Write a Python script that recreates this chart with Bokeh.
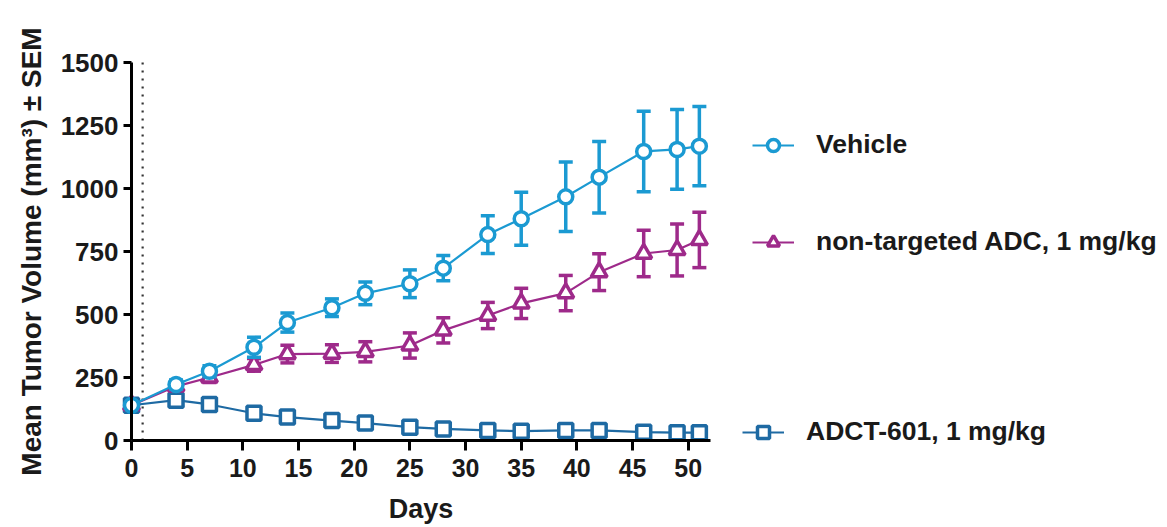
from bokeh.plotting import figure
from bokeh.models import (ColumnDataSource, FixedTicker, Legend, LegendItem, Range1d)
from bokeh.embed import file_html
from bokeh.resources import INLINE

# ---- data ----
days = [0, 4, 7, 11, 14, 18, 21, 25, 28, 32, 35, 39, 42, 46, 49, 51]
vehicle_mean = [140, 222, 275, 370, 468, 527, 584, 622, 684, 817, 880, 967, 1045, 1147, 1155, 1168]
vehicle_sem = [12, 18, 22, 40, 38, 35, 45, 55, 50, 75, 105, 138, 142, 160, 158, 157]
adc_mean = [140, 215, 250, 300, 343, 345, 352, 377, 437, 496, 544, 585, 668, 742, 756, 796]
adc_sem = [12, 15, 20, 25, 35, 35, 40, 50, 50, 52, 60, 70, 73, 92, 103, 110]
adct_mean = [140, 160, 143, 108, 93, 79, 69, 53, 46, 40, 37, 40, 40, 33, 31, 31]
adct_sem = [10, 12, 10, 8, 7, 6, 5, 5, 4, 4, 4, 4, 4, 3, 3, 3]
series_names = ["Vehicle", "non-targeted ADC, 1 mg/kg", "ADCT-601, 1 mg/kg"]
x_ticks = [0, 5, 10, 15, 20, 25, 30, 35, 40, 45, 50]
y_ticks = [0, 250, 500, 750, 1000, 1250, 1500]
dosing_day = 1
x_max = 52
y_max = 1500

# ---- layout (pixels) ----
W, H = 1167, 527
AX_X0, AX_X1 = 131, 710     # pixel of day 0 / day x_max
AX_Y0, AX_Y1 = 440, 62      # pixel of 0 / y_max
px_per_day = (AX_X1 - AX_X0) / x_max
px_per_unit = (AX_Y0 - AX_Y1) / y_max
x_lo = -AX_X0 / px_per_day
x_hi = (W - AX_X0) / px_per_day
y_lo = -(H - AX_Y0) / px_per_unit
y_hi = AX_Y0 / px_per_unit

FONT = "Liberation Sans"
TXT = "#1a1a1a"

p = figure(width=W, height=H, output_backend="svg", toolbar_location=None,
           x_range=Range1d(x_lo, x_hi), y_range=Range1d(y_lo, y_hi),
           min_border=0, min_border_left=0, min_border_right=0,
           min_border_top=0, min_border_bottom=0)
p.outline_line_color = None
p.xgrid.visible = False
p.ygrid.visible = False
p.background_fill_color = "white"
p.border_fill_color = "white"

for ax in (p.xaxis[0], p.yaxis[0]):
    ax.axis_line_width = 3
    ax.axis_line_color = "black"
    ax.major_tick_line_width = 3
    ax.major_tick_line_color = "black"
    ax.major_tick_in = 0
    ax.minor_tick_line_color = None
    ax.major_label_text_font = FONT
    ax.major_label_text_font_style = "bold"
    ax.major_label_text_color = TXT
    ax.axis_label_text_font = FONT
    ax.axis_label_text_font_style = "bold"
    ax.axis_label_text_color = TXT

p.xaxis.major_tick_out = 10
p.yaxis.major_tick_out = 8
p.xaxis.major_label_text_font_size = "25px"
p.yaxis.major_label_text_font_size = "26px"
p.xaxis.axis_label_text_font_size = "27px"
p.yaxis.axis_label_text_font_size = "28px"

p.xaxis.ticker = FixedTicker(ticks=x_ticks)
p.yaxis.ticker = FixedTicker(ticks=y_ticks)
p.xaxis.bounds = (0, x_max)
p.yaxis.bounds = (0, y_max)
p.xaxis.fixed_location = 0
p.yaxis.fixed_location = 0
p.xaxis.major_label_standoff = 8
p.yaxis.major_label_standoff = 5
p.xaxis.axis_label = "Days"
p.yaxis.axis_label = "Mean Tumor Volume (mm³) ± SEM"
p.xaxis.axis_label_standoff = 14
p.yaxis.axis_label_standoff = 11

# dotted dosing line
p.segment(x0=[dosing_day], y0=[0], x1=[dosing_day], y1=[y_max],
          line_color="#333333", line_width=2.2, line_dash="2 6")

colors = ["#1b9ad2", "#9e2a8a", "#1e6aa3"]
markers = ["circle", "triangle", "square"]
sizes = [14, 16, 14]
means = [vehicle_mean, adc_mean, adct_mean]
sems = [vehicle_sem, adc_sem, adct_sem]

legend_pos = [(752, H - 160), (752, H - 257), (742, H - 447)]

items = {}
# draw ADCT first, then ADC, then Vehicle on top
for i in [2, 1, 0]:
    m = means[i]
    s = sems[i]
    src = ColumnDataSource(dict(x=days, y=m,
                                lo=[a - b for a, b in zip(m, s)],
                                hi=[a + b for a, b in zip(m, s)]))
    p.segment(x0="x", y0="lo", x1="x", y1="hi", source=src,
              line_color=colors[i], line_width=3.5)
    p.scatter(x="x", y="hi", source=src, marker="dash", size=14,
              line_color=colors[i], line_width=3.5)
    p.scatter(x="x", y="lo", source=src, marker="dash", size=14,
              line_color=colors[i], line_width=3.5)
    lr = p.line(x="x", y="y", source=src, line_color=colors[i], line_width=2.2)
    sr = p.scatter(x="x", y="y", source=src, marker=markers[i], size=sizes[i],
                   line_color=colors[i], line_width=3.5, fill_color="white")
    items[i] = (lr, sr)

for i in range(3):
    lr, sr = items[i]
    leg = Legend(items=[LegendItem(label=series_names[i], renderers=[lr, sr])],
                 location=legend_pos[i], orientation="vertical",
                 glyph_width=42, glyph_height=30, label_height=30,
                 label_standoff=22, padding=0, margin=0, spacing=0,
                 border_line_color=None, background_fill_alpha=0,
                 label_text_font=FONT, label_text_font_style="bold",
                 label_text_font_size="26.5px", label_text_color=TXT)
    p.add_layout(leg, "center")

open("out.html", "w").write(file_html(p, INLINE))
